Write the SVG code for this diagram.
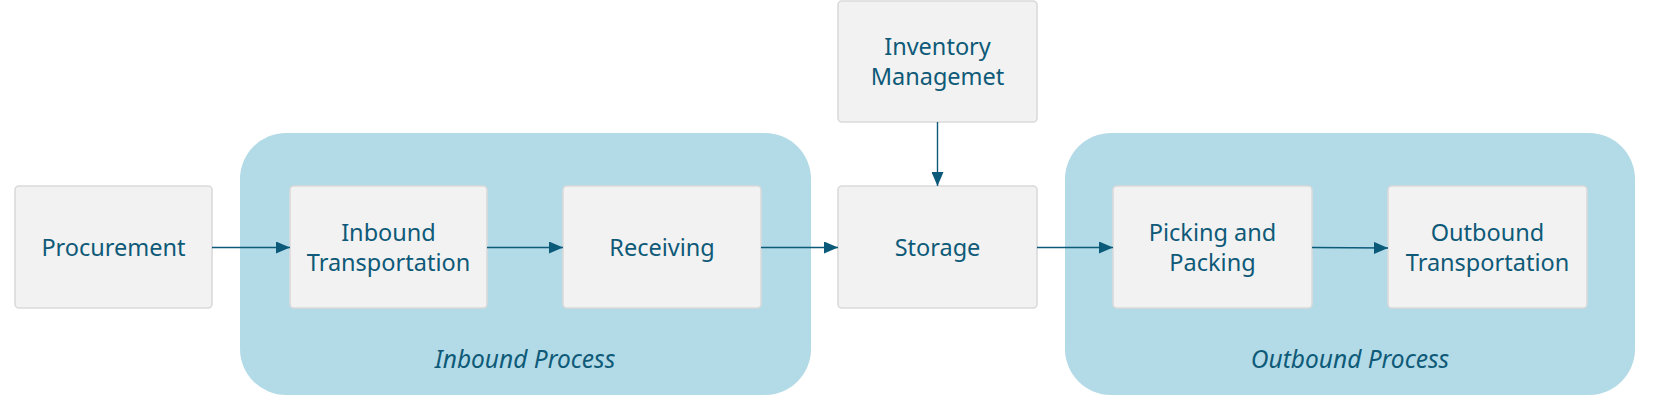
<svg xmlns="http://www.w3.org/2000/svg" width="1657" height="408" viewBox="0 0 1657 408">
<defs>
<marker id="ah" markerUnits="userSpaceOnUse" markerWidth="14" markerHeight="12" refX="14" refY="6" orient="auto">
<path d="M0,0 L14,6 L0,12 Z" fill="#0b5a7a"/>
</marker>
<style>
.grp{fill:#b3dae7;}
.box{fill:#f2f2f2;stroke:#dadada;stroke-width:1.6;}
.t{font-family:"Noto Sans","Open Sans",sans-serif;font-size:23.5px;fill:#0e5a78;text-anchor:middle;}
.gt{font-family:"Noto Sans","Open Sans",sans-serif;font-size:24.5px;font-style:italic;fill:#0e5a78;text-anchor:middle;}
.c{stroke:#0b5a7a;stroke-width:1.4;fill:none;marker-end:url(#ah);}
</style>
</defs>
<rect width="1657" height="408" fill="#ffffff"/>
<g id="inbound-process">
<rect class="grp" x="240" y="133" width="571" height="262" rx="46"/>
<text class="gt" x="525" y="368">Inbound Process</text>
</g>
<g id="outbound-process">
<rect class="grp" x="1065" y="133" width="570" height="262" rx="46"/>
<text class="gt" x="1350" y="368">Outbound Process</text>
</g>
<g id="procurement">
<rect class="box" x="15" y="186" width="197" height="122" rx="4"/>
<text class="t" x="113.5" y="256">Procurement</text>
</g>
<g id="inbound-transportation">
<rect class="box" x="290" y="186" width="197" height="122" rx="4"/>
<text class="t" x="388.5" y="241">Inbound</text>
<text class="t" x="388.5" y="271">Transportation</text>
</g>
<g id="receiving">
<rect class="box" x="563" y="186" width="198" height="122" rx="4"/>
<text class="t" x="662" y="256">Receiving</text>
</g>
<g id="storage">
<rect class="box" x="838" y="186" width="199" height="122" rx="4"/>
<text class="t" x="937.5" y="256">Storage</text>
</g>
<g id="inventory-management">
<rect class="box" x="838" y="1" width="199" height="121" rx="4"/>
<text class="t" x="937.5" y="55">Inventory</text>
<text class="t" x="937.5" y="85">Managemet</text>
</g>
<g id="picking-packing">
<rect class="box" x="1113" y="186" width="199" height="122" rx="4"/>
<text class="t" x="1212.5" y="241">Picking and</text>
<text class="t" x="1212.5" y="271">Packing</text>
</g>
<g id="outbound-transportation">
<rect class="box" x="1388" y="186" width="199" height="122" rx="4"/>
<text class="t" x="1487.5" y="241">Outbound</text>
<text class="t" x="1487.5" y="271">Transportation</text>
</g>
<g id="connectors">
<line class="c" x1="212" y1="247.5" x2="290" y2="247.5"/>
<line class="c" x1="487" y1="247.5" x2="563" y2="247.5"/>
<line class="c" x1="761" y1="247.5" x2="838" y2="247.5"/>
<line class="c" x1="1037" y1="247.5" x2="1113" y2="247.5"/>
<line class="c" x1="1312" y1="247.5" x2="1388" y2="248"/>
<line class="c" x1="937.5" y1="122" x2="937.5" y2="186"/>
</g>
</svg>
